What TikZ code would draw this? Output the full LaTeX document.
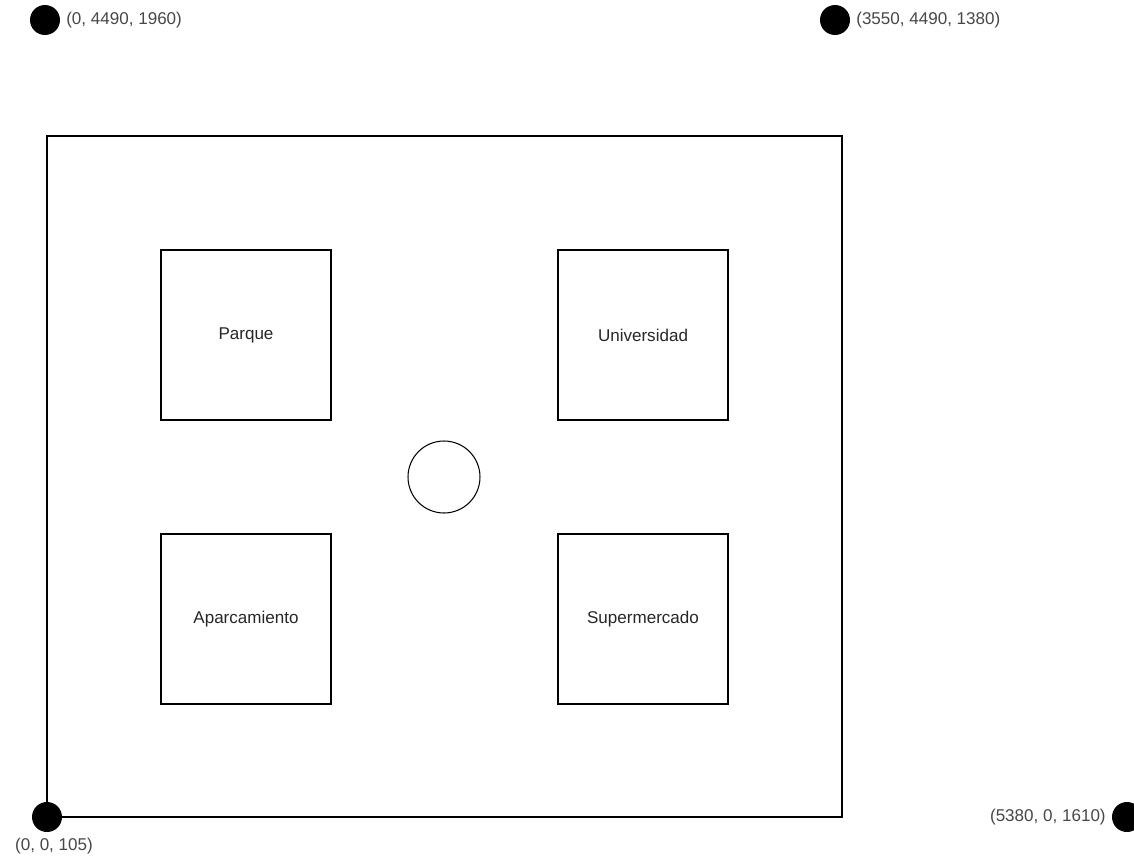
\documentclass[tikz,border=0pt]{standalone}
\usepackage{fontspec}
\setmainfont{Liberation Sans}
\usetikzlibrary{positioning}

\tikzset{
  dot/.style={circle, fill=black, inner sep=0pt, minimum size=0.6cm},
  coord/.style={text=black!72, font=\fontsize{9.7}{11}\selectfont, inner sep=1pt},
  zone/.style={draw, line width=0.6pt, minimum size=3.4cm, font=\fontsize{9.7}{11}\selectfont, text=black!85},
}

\begin{document}
\begin{tikzpicture}[x=0.02cm, y=-0.02cm, line width=0.6pt]
  \useasboundingbox (0,0) rectangle (1134,856);
  % terrain
  \draw (47,136) rectangle (842,817);
  \node[zone] (parque) at (246,335) {Parque};
  \node[zone] (uni) at (643,335) {Universidad};
  \node[zone] (aparc) at (246,619) {Aparcamiento};
  \node[zone] (super) at (643,619) {Supermercado};
  \node[draw, circle, minimum size=1.44cm, inner sep=0pt] (centro) at (444,477) {};
  % reference points
  \node[dot] (p1) at (45,20) {};
  \node[coord, right=2pt of p1] (l1) {(0, 4490, 1960)};
  \node[dot] (p2) at (835,20) {};
  \node[coord, right=2pt of p2] (l2) {(3550, 4490, 1380)};
  \node[dot] (p3) at (47,817) {};
  \node[coord, below=2pt of p3, xshift=0.14cm] (l3) {(0, 0, 105)};
  \node[dot] (p4) at (1127,817) {};
  \node[coord, left=2pt of p4] (l4) {(5380, 0, 1610)};
\end{tikzpicture}
\end{document}
